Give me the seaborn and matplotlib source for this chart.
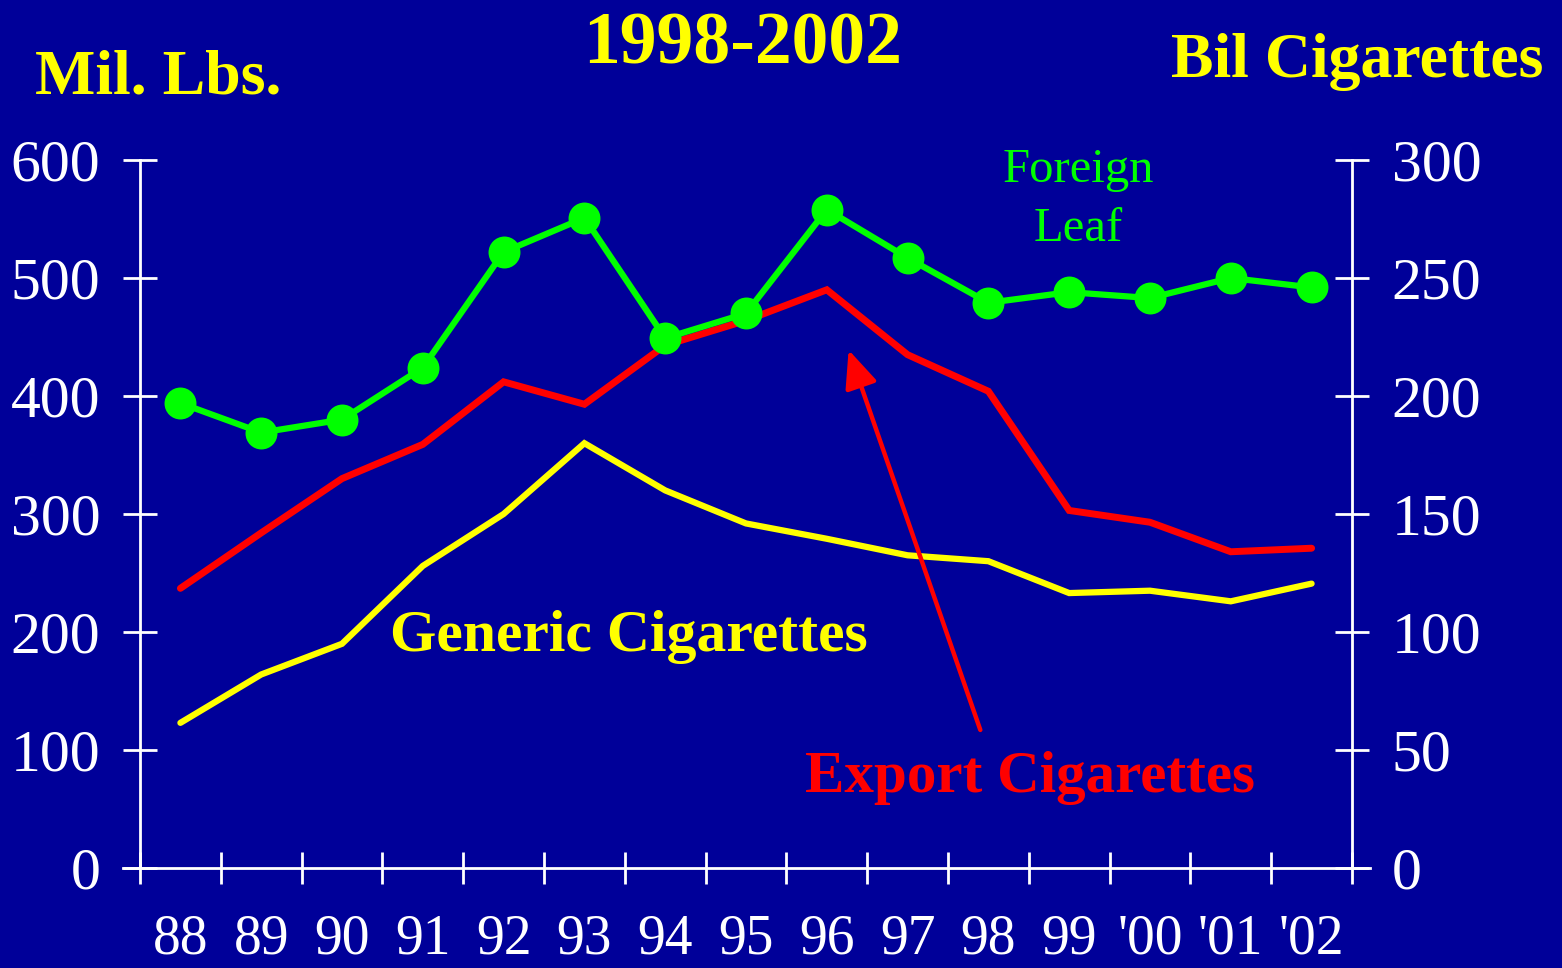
import numpy as np
import pandas as pd
import matplotlib
matplotlib.use("Agg")
import matplotlib.pyplot as plt
import seaborn as sns

# ---- data ----
years = ["88", "89", "90", "91", "92", "93", "94", "95", "96", "97", "98", "99", "'00", "'01", "'02"]
foreign_leaf_mil_lbs = [394, 369, 380, 424, 522, 551, 449, 470, 558, 517, 479, 488, 483, 500, 492]
export_cigs_bil = [118.5, 142, 165, 179.5, 206, 196.5, 221.5, 232, 245, 217.5, 202, 151.5, 146.5, 134, 135.5]
generic_cigs_bil = [61.5, 82, 95, 128, 150, 180, 160, 146, 139.5, 132.5, 130, 116.5, 117.5, 113, 120.5]
left_ticks = [0, 100, 200, 300, 400, 500, 600]
right_ticks = [0, 50, 100, 150, 200, 250, 300]

BG = "#000099"
GREEN = "#00FF00"
RED = "#FF0000"
YELLOW = "#FFFF00"
WHITE = "#FFFFFF"

sns.set_style("white")
plt.rcParams["font.family"] = ["Liberation Serif", "DejaVu Serif"]

fig = plt.figure(figsize=(15.62, 9.68), dpi=100, facecolor=BG)
ax = fig.add_axes([140 / 1562, 100 / 968, (1352 - 140) / 1562, (868 - 160) / 968])
ax.set_facecolor("none")
ax2 = ax.twinx()
ax2.set_facecolor("none")

pos = np.arange(len(years))
df = pd.DataFrame({"pos": pos, "foreign": foreign_leaf_mil_lbs,
                   "export": export_cigs_bil, "generic": generic_cigs_bil})

sns.lineplot(data=df, x="pos", y="generic", ax=ax2, color=YELLOW, lw=4.5,
             solid_capstyle="round", solid_joinstyle="miter")
sns.lineplot(data=df, x="pos", y="export", ax=ax2, color=RED, lw=5,
             solid_capstyle="round", solid_joinstyle="miter")
sns.lineplot(data=df, x="pos", y="foreign", ax=ax, color=GREEN, lw=4.5,
             marker="o", markersize=23, markeredgewidth=0, zorder=5)

# bring green above twin axis
ax.set_zorder(ax2.get_zorder() + 1)

for a in (ax, ax2):
    a.set_xlim(-0.5, len(years) - 0.5)
    a.set_xlabel("")
    a.set_ylabel("")
    for s in a.spines.values():
        s.set_color(WHITE)
        s.set_linewidth(2)
    a.spines["top"].set_visible(False)

ax.set_ylim(0, 600)
ax2.set_ylim(0, 300)
ax.set_yticks(left_ticks)
ax2.set_yticks(right_ticks)
ax.set_yticklabels([str(t) for t in left_ticks])
ax2.set_yticklabels([str(t) for t in right_ticks])

ax.spines["right"].set_visible(False)
ax2.spines["left"].set_visible(False)
ax2.spines["bottom"].set_visible(False)
ax.spines["bottom"].set_bounds(-0.71, len(years) - 0.5 + 0.22)

ax.set_xticks(pos)
ax.set_xticklabels(years)
ax.set_xticks(np.arange(-0.5, len(years)), minor=True)
ax.tick_params(axis="x", which="major", bottom=True, length=0, pad=33, labelsize=40, colors=WHITE)
ax.tick_params(axis="x", which="minor", bottom=True, length=23, width=2, direction="inout", color=WHITE)
ax.tick_params(axis="y", which="major", left=True, length=25, width=2, direction="inout",
               color=WHITE, labelcolor=WHITE, labelsize=43, pad=16)
ax2.tick_params(axis="y", which="major", right=True, length=25, width=2, direction="inout",
                color=WHITE, labelcolor=WHITE, labelsize=43, pad=16)
ax2.tick_params(axis="x", which="both", length=0, labelbottom=False)

# arrow pointing at export peak
ax2.annotate("", xy=(8.27, 219.5), xytext=(9.9, 58.5),
             arrowprops=dict(arrowstyle="-|>,head_length=2.3,head_width=1.0",
                             color=RED, lw=3.2, shrinkA=0, shrinkB=0))

# texts
fig.text(35 / 1562, 1 - 93 / 968, "Mil. Lbs.", color=YELLOW, fontsize=46,
         fontweight="bold", ha="left", va="baseline")
fig.text(743 / 1562, 1 - 63 / 968, "1998-2002", color=YELLOW, fontsize=53,
         fontweight="bold", ha="center", va="baseline")
fig.text(1543 / 1562, 1 - 77 / 968, "Bil Cigarettes", color=YELLOW, fontsize=46,
         fontweight="bold", ha="right", va="baseline")
fig.text(1078 / 1562, 1 - 182 / 968, "Foreign", color=GREEN, fontsize=35,
         ha="center", va="baseline")
fig.text(1078 / 1562, 1 - 241 / 968, "Leaf", color=GREEN, fontsize=35,
         ha="center", va="baseline")
fig.text(390 / 1562, 1 - 651 / 968, "Generic Cigarettes", color=YELLOW, fontsize=43,
         fontweight="bold", ha="left", va="baseline")
fig.text(805 / 1562, 1 - 792 / 968, "Export Cigarettes", color=RED, fontsize=42.5,
         fontweight="bold", ha="left", va="baseline")

fig.savefig("out.png", dpi=100, facecolor=BG)
